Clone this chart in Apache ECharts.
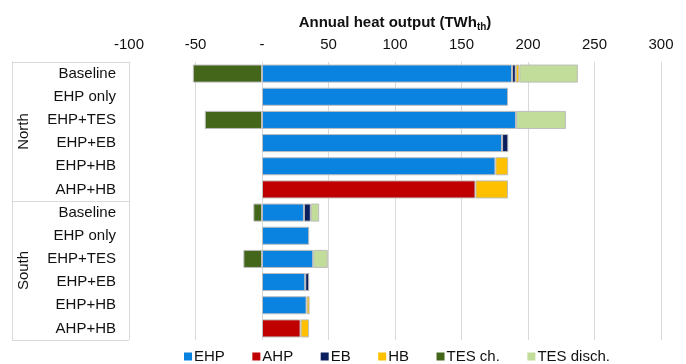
<!DOCTYPE html>
<html>
<head>
<meta charset="utf-8">
<script src="https://cdn.jsdelivr.net/npm/echarts@6/dist/echarts.min.js"></script>
<style>
  html, body { margin: 0; padding: 0; background: #fff; }
  #chart { width: 686px; height: 364px; }
</style>
</head>
<body>
<div id="chart"></div>
<script>
// Scenario rows, listed top to bottom (North block first, then South)
const scenarios = ['Baseline', 'EHP only', 'EHP+TES', 'EHP+EB', 'EHP+HB', 'AHP+HB',
                   'Baseline', 'EHP only', 'EHP+TES', 'EHP+EB', 'EHP+HB', 'AHP+HB'];
const regions = ['North', 'South'];

// Annual heat output per technology, TWh_th (null = not present)
const ehp      = [188, 185, 191, 180.5, 175.5, null, 31.5, 35.5, 38.5, 32.5, 33.5, null];
const ahp      = [null, null, null, null, null, 160.5, null, null, null, null, null, 29];
const eb       = [2.8, null, null, 4.7, null, null, 5.2, null, null, 3, null, null];
const hb       = [2.7, null, null, null, 9.6, 24.5, null, null, null, null, 2.3, 6.4];
const tesCh    = [-52, null, -43, null, null, null, -6.5, null, -14, null, null, null];
const tesDisch = [44, null, 37.5, null, null, null, 6.3, null, 11, null, null, null];

const axisTicks = [-100, -50, 0, 50, 100, 150, 200, 250, 300];

const seriesDefs = [
  { name: 'EHP',       data: ehp,      color: '#0a82e0' },
  { name: 'AHP',       data: ahp,      color: '#c00000' },
  { name: 'EB',        data: eb,       color: '#0b1f5e' },
  { name: 'HB',        data: hb,       color: '#ffc000' },
  { name: 'TES ch.',   data: tesCh,    color: '#43661a' },
  { name: 'TES disch.',data: tesDisch, color: '#c2dc99' }
];

const FONT = '"Liberation Sans", Arial, sans-serif';
const chart = echarts.init(document.getElementById('chart'), null, { renderer: 'canvas' });

chart.setOption({
  animation: false,
  textStyle: { fontFamily: FONT },
  grid: { left: 129, right: 25, top: 62, bottom: 24, containLabel: false },
  legend: {
    data: seriesDefs.map(s => s.name),
    left: 179, top: 344,
    itemWidth: 8, itemHeight: 8, itemGap: 27.5,
    icon: 'rect',
    itemStyle: { borderWidth: 0 },
    textStyle: { fontFamily: FONT, fontSize: 15, color: '#111', padding: [0, 0, 0, -3] }
  },
  xAxis: {
    type: 'value',
    position: 'top',
    min: axisTicks[0],
    max: axisTicks[axisTicks.length - 1],
    interval: axisTicks[1] - axisTicks[0],
    name: '{t|Annual heat output (TWh}{s|th}{t|)}',
    nameLocation: 'middle',
    nameGap: 30,
    nameTextStyle: {
      rich: {
        t: { fontFamily: FONT, fontSize: 15, fontWeight: 'bold', color: '#111' },
        s: { fontFamily: FONT, fontSize: 10, fontWeight: 'bold', color: '#111', padding: [8, 0, 0, 0] }
      }
    },
    axisLine: { show: false },
    axisTick: { show: false },
    axisLabel: {
      margin: 10,
      fontSize: 15,
      color: '#111',
      formatter: v => (v === 0 ? '-' : String(v))
    },
    splitLine: { show: true, lineStyle: { color: '#d9d9d9', width: 1 } }
  },
  yAxis: [
    {
      type: 'category',
      data: scenarios,
      inverse: true,
      axisLine: { show: false },
      axisTick: { show: false },
      axisLabel: { margin: 13, fontSize: 15, color: '#111' }
    },
    {
      // Region column framing the scenario labels
      type: 'category',
      data: regions,
      inverse: true,
      position: 'left',
      offset: 117,
      axisLine: { show: true, onZero: false, lineStyle: { color: '#d9d9d9', width: 1 } },
      axisTick: { show: true, inside: true, length: 117, interval: 0,
                  lineStyle: { color: '#d9d9d9', width: 1 } },
      axisLabel: { inside: true, rotate: 90, margin: 4, fontSize: 15, color: '#111' }
    }
  ],
  series: seriesDefs.map(s => ({
    name: s.name,
    type: 'bar',
    stack: 'heat',
    yAxisIndex: 0,
    data: s.data,
    barCategoryGap: '22%',
    itemStyle: { color: s.color, borderColor: '#bdbdbd', borderWidth: 1 }
  }))
});
</script>
</body>
</html>
